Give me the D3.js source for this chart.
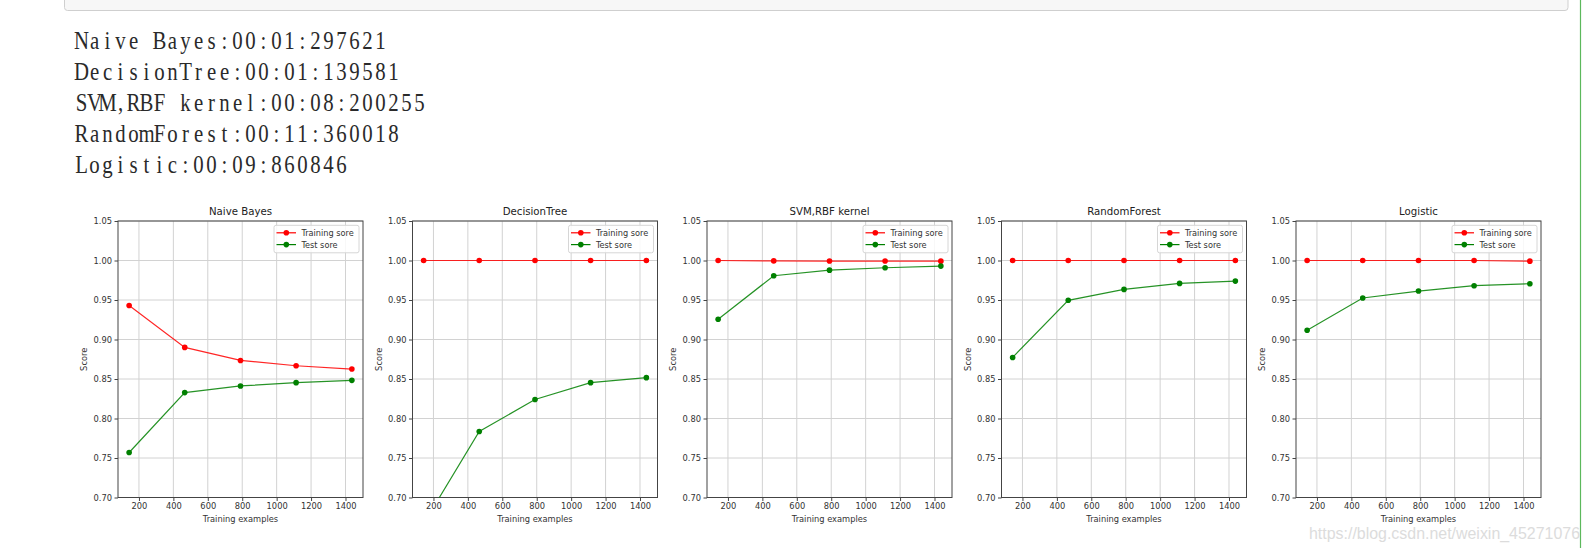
<!DOCTYPE html>
<html>
<head>
<meta charset="utf-8">
<script src="https://cdn.jsdelivr.net/npm/d3@7"></script>
<style>
  html, body { margin: 0; padding: 0; background: #fff; }
  svg { display: block; }
</style>
</head>
<body>
<svg id="chart" width="1590" height="548"></svg>
<script>
// ---------------- data ----------------
const models = ["Naive Bayes", "DecisionTree", "SVM,RBF kernel", "RandomForest", "Logistic"];
const timings = ["00:01:297621", "00:01:139581", "00:08:200255", "00:11:360018", "00:09:860846"];
const trainSizes = [143, 466, 790, 1113, 1437];
const trainNaiveBayes = [0.943, 0.890, 0.8735, 0.8668, 0.8626];
const testNaiveBayes  = [0.757, 0.8328, 0.8412, 0.8454, 0.8483];
const trainDecisionTree = [1.0, 1.0, 1.0, 1.0, 1.0];
const testDecisionTree  = [0.667, 0.7835, 0.824, 0.8454, 0.8517];
const trainSVM = [1.0, 0.9995, 0.9993, 0.9993, 0.9992];
const testSVM  = [0.9256, 0.9807, 0.9878, 0.9908, 0.9929];
const trainRandomForest = [1.0, 1.0, 1.0, 1.0, 1.0];
const testRandomForest  = [0.8773, 0.9496, 0.9634, 0.9710, 0.9739];
const trainLogistic = [1.0, 1.0, 1.0, 1.0, 0.9992];
const testLogistic  = [0.9118, 0.9525, 0.9613, 0.9681, 0.9706];
const xTicks = [200, 400, 600, 800, 1000, 1200, 1400];
const yTicks = [0.70, 0.75, 0.80, 0.85, 0.90, 0.95, 1.00, 1.05];
const legendLabels = ["Training sore", "Test sore"];
const watermark = "https://blog.csdn.net/weixin_45271076";

const trainAll = [trainNaiveBayes, trainDecisionTree, trainSVM, trainRandomForest, trainLogistic];
const testAll = [testNaiveBayes, testDecisionTree, testSVM, testRandomForest, testLogistic];

// ---------------- layout ----------------
const svg = d3.select("#chart");
const font = "'DejaVu Sans', sans-serif";

// notebook cell frame at top
svg.append("rect").attr("x", 64.5).attr("y", -6).attr("width", 1503.5).attr("height", 16.5)
  .attr("rx", 3).attr("fill", "#f7f7f7").attr("stroke", "#cfcfcf").attr("stroke-width", 1);
// green vertical bar on the right
svg.append("line").attr("x1", 1580.5).attr("x2", 1580.5).attr("y1", 0).attr("y2", 548)
  .attr("stroke", "#5cb85c").attr("stroke-width", 1.2);

// printed output lines (monospace-like serif)
const cell = 13, sx = 0.8;
models.forEach((m, i) => {
  const str = m + ":" + timings[i];
  const chars = Array.from(str);
  svg.append("text")
    .attr("transform", `translate(75, ${48.5 + i * 31}) scale(${sx},1)`)
    .attr("x", chars.map((c, k) => ((k + 0.5) * cell / sx).toFixed(2)).join(" "))
    .attr("text-anchor", "middle")
    .attr("font-family", "'Liberation Serif', 'DejaVu Serif', serif")
    .attr("font-size", 26)
    .attr("fill", "#2a2a2a")
    .text(str);
});

const axW = 245, axTop = 221, axBot = 497.5, step = 294.5, ax0 = 118;
const clipDefs = svg.append("defs");

models.forEach((name, i) => {
  const left = ax0 + i * step;
  const x = d3.scaleLinear().domain([78.3, 1501.7]).range([left, left + axW]);
  const y = d3.scaleLinear().domain([0.70, 1.05]).range([axBot, axTop]);
  const g = svg.append("g");

  clipDefs.append("clipPath").attr("id", "clip" + i)
    .append("rect").attr("x", left).attr("y", axTop).attr("width", axW).attr("height", axBot - axTop);

  // grid
  g.append("g").selectAll("line").data(xTicks).join("line")
    .attr("x1", d => x(d)).attr("x2", d => x(d)).attr("y1", axTop).attr("y2", axBot)
    .attr("stroke", "#d2d2d2").attr("stroke-width", 1);
  g.append("g").selectAll("line").data(yTicks).join("line")
    .attr("y1", d => y(d)).attr("y2", d => y(d)).attr("x1", left).attr("x2", left + axW)
    .attr("stroke", "#d2d2d2").attr("stroke-width", 1);

  // axes
  const xa = g.append("g").attr("transform", `translate(0,${axBot})`)
    .call(d3.axisBottom(x).tickValues(xTicks).tickSize(3.5).tickPadding(2.5).tickFormat(d3.format("d")));
  const ya = g.append("g").attr("transform", `translate(${left},0)`)
    .call(d3.axisLeft(y).tickValues(yTicks).tickSize(3.5).tickPadding(2.5).tickFormat(d3.format(".2f")));
  [xa, ya].forEach(a => {
    a.select(".domain").remove();
    a.selectAll("line").attr("stroke", "#444");
    a.selectAll("text").attr("font-family", font).attr("font-size", 8.3).attr("fill", "#333");
  });

  // frame
  g.append("rect").attr("x", left).attr("y", axTop).attr("width", axW).attr("height", axBot - axTop)
    .attr("fill", "none").attr("stroke", "#444").attr("stroke-width", 1);

  // labels
  g.append("text").attr("x", left + axW / 2).attr("y", 215)
    .attr("text-anchor", "middle").attr("font-family", font).attr("font-size", 10.2).attr("fill", "#222").text(name);
  g.append("text").attr("x", left + axW / 2).attr("y", 522)
    .attr("text-anchor", "middle").attr("font-family", font).attr("font-size", 8.3).attr("fill", "#333").text("Training examples");
  g.append("text").attr("transform", `translate(${left - 31},${(axTop + axBot) / 2}) rotate(-90)`)
    .attr("text-anchor", "middle").attr("font-family", font).attr("font-size", 8.3).attr("fill", "#333").text("Score");

  // series
  const series = [{ vals: trainAll[i], color: "#ff0000" }, { vals: testAll[i], color: "#008000" }];
  const line = d3.line().x((d, k) => x(trainSizes[k])).y(d => y(d));
  const pg = g.append("g").attr("clip-path", `url(#clip${i})`);
  series.forEach(s => {
    pg.append("path").datum(s.vals).attr("d", line)
      .attr("fill", "none").attr("stroke", s.color).attr("stroke-width", 1.2).attr("opacity", 0.85);
    pg.selectAll(null).data(s.vals).join("circle")
      .attr("cx", (d, k) => x(trainSizes[k])).attr("cy", d => y(d)).attr("r", 2.8)
      .attr("fill", s.color);
  });

  // legend
  const lx = left + axW - 89, ly = axTop + 4.3;
  const lg = g.append("g");
  lg.append("rect").attr("x", lx).attr("y", ly).attr("width", 85).attr("height", 27.5).attr("rx", 2)
    .attr("fill", "#fff").attr("fill-opacity", 0.85).attr("stroke", "#d6d6d6").attr("stroke-width", 1);
  series.forEach((s, k) => {
    const yy = ly + 7.5 + k * 11.8;
    lg.append("line").attr("x1", lx + 2.5).attr("x2", lx + 22).attr("y1", yy).attr("y2", yy)
      .attr("stroke", s.color).attr("stroke-width", 1.2);
    lg.append("circle").attr("cx", lx + 12.3).attr("cy", yy).attr("r", 2.8).attr("fill", s.color);
    lg.append("text").attr("x", lx + 27.4).attr("y", yy + 3).attr("font-family", font)
      .attr("font-size", 8.2).attr("fill", "#333").text(legendLabels[k]);
  });
});

// watermark
svg.append("text").attr("x", 1309).attr("y", 538.5).attr("font-family", "'Liberation Sans', Arial, sans-serif")
  .attr("font-size", 16).attr("fill", "#dcdcdc").attr("textLength", 271).attr("lengthAdjust", "spacingAndGlyphs")
  .text(watermark);
</script>
</body>
</html>
